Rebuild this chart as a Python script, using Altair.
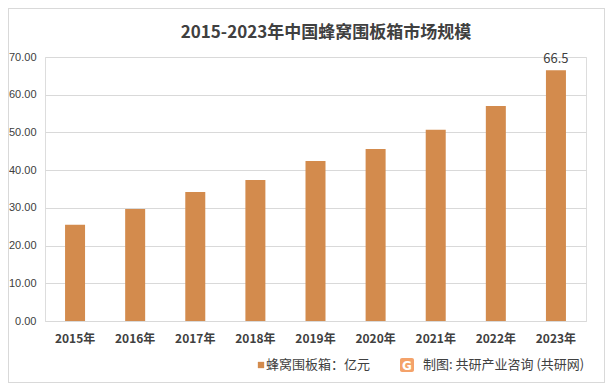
import altair as alt
import pandas as pd

years = ["2015年", "2016年", "2017年", "2018年", "2019年", "2020年", "2021年", "2022年", "2023年"]
values = [25.5, 29.7, 34.2, 37.4, 42.4, 45.6, 50.7, 57.0, 66.5]
labels = ["", "", "", "", "", "", "", "", "66.5"]
y_ticks = [0, 10, 20, 30, 40, 50, 60, 70]

df = pd.DataFrame({"year": years, "value": values, "label": labels})

W, H = 541, 264
BAR = "#D38B4D"
TXT = "#404040"
FONT = "Noto Sans CJK SC"

x_axis = alt.Axis(labelAngle=0, ticks=False, domainColor="#D9D9D9",
                  labelColor=TXT, labelFontSize=12, labelFontWeight="bold",
                  labelPadding=12, labelFont=FONT)
y_axis = alt.Axis(values=y_ticks, tickCount=8, format=".2f",
                  ticks=False, domain=False, gridColor="#D9D9D9",
                  labelColor=TXT, labelFontSize=11, labelPadding=9,
                  labelOverlap=False, labelFont="Liberation Sans")
x_enc = alt.X("year:N", sort=years, title=None,
              scale=alt.Scale(paddingInner=0.0, paddingOuter=0.0), axis=x_axis)
y_enc = alt.Y("value:Q", title=None,
              scale=alt.Scale(domain=[0, 70], nice=False), axis=y_axis)

bars = alt.Chart(df).mark_bar(color=BAR, size=20).encode(x=x_enc, y=y_enc)

text = alt.Chart(df).mark_text(dy=-11, fontSize=13, color=TXT, font=FONT).encode(
    x=x_enc, y=y_enc, text="label:N")

border = alt.Chart(df).mark_rect(fill=None, stroke="#D9D9D9", strokeWidth=1).encode(
    x=alt.value(-36.5), x2=alt.value(W + 18.5), y=alt.value(-48.5), y2=alt.value(H + 61.5))

title_df = pd.DataFrame({"t": ["2015-2023年中国蜂窝围板箱市场规模"]})
title = alt.Chart(title_df).mark_text(fontSize=17, fontWeight="bold", color=TXT, font=FONT).encode(
    x=alt.value(281), y=alt.value(-24), text="t:N")

leg_sq = alt.Chart(title_df).mark_square(color=BAR, size=40, opacity=1).encode(
    x=alt.value(216), y=alt.value(308))
leg_txt = alt.Chart(pd.DataFrame({"t": ["蜂窝围板箱：亿元"]})).mark_text(
    align="left", fontSize=13, color=TXT, font=FONT).encode(
    x=alt.value(221), y=alt.value(308), text="t:N")
logo_bg = alt.Chart(title_df).mark_rect(color="#F4A26A", cornerRadius=2).encode(
    x=alt.value(355), x2=alt.value(369), y=alt.value(301), y2=alt.value(315))
logo_g = alt.Chart(pd.DataFrame({"t": ["G"]})).mark_text(
    fontSize=12, fontWeight="bold", color="white", font="DejaVu Sans").encode(
    x=alt.value(362), y=alt.value(308.5), text="t:N")
src_txt = alt.Chart(pd.DataFrame({"t": ["制图: 共研产业咨询 (共研网)"]})).mark_text(
    align="left", fontSize=13, color=TXT, font=FONT).encode(
    x=alt.value(378), y=alt.value(308), text="t:N")

chart = alt.layer(border, bars, text, title, leg_sq, leg_txt, logo_bg, logo_g, src_txt).properties(
    width=W, height=H,
    padding={"left": 37, "top": 49, "right": 19, "bottom": 62},
    autosize=alt.AutoSizeParams(type="none"),
).configure_view(stroke=None).configure(background="white")

chart.save("out.html", embed_options={"renderer": "svg", "actions": False})
